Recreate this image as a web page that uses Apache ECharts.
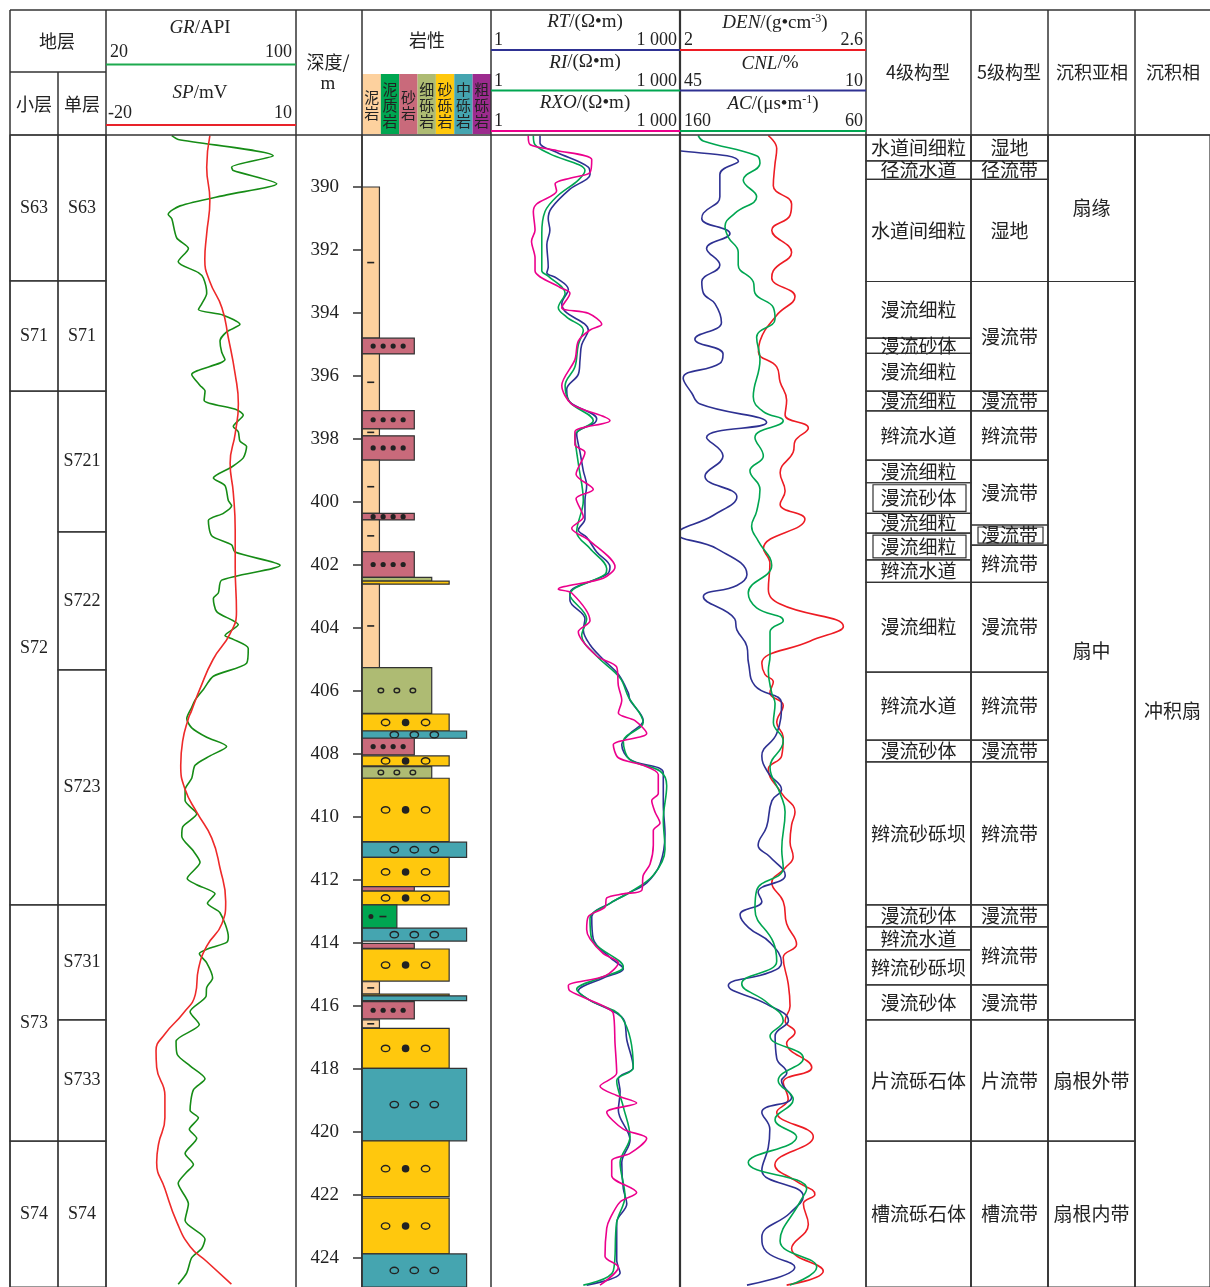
<!DOCTYPE html>
<html>
<head>
<meta charset="utf-8">
<script src="https://cdn.jsdelivr.net/npm/echarts@6/dist/echarts.min.js"></script>
<style>
  html, body { margin: 0; padding: 0; background: #fff; }
  #chart { width: 1210px; height: 1287px; }
</style>
</head>
<body>
<div id="chart"></div>
<script>
// ---- depth range (m) ----
const depthTop = 388.35;
const depthBottom = 424.92;
const depthTicks = [390, 392, 394, 396, 398, 400, 402, 404, 406, 408, 410, 412, 414, 416, 418, 420, 422, 424];

// ---- log curves, [value, depth] ----
const grCurve = [[47.7,388.37],[50.4,388.49],[90.4,389.01],[72.9,389.37],[73.6,389.48],[91.9,389.90],[70.8,390.25],[51.2,390.60],[46.2,390.87],[47.7,391.01],[49.8,391.62],[54.7,391.95],[50.4,392.37],[58.9,392.72],[61.0,392.89],[62.4,393.37],[60.3,393.71],[58.9,393.89],[69.4,394.07],[76.4,394.36],[70.8,394.60],[68.0,394.89],[68.7,395.24],[70.1,395.48],[56.1,395.95],[59.6,396.30],[61.7,396.48],[61.3,396.77],[75.0,397.07],[77.8,397.24],[73.6,397.60],[75.7,397.77],[76.4,398.07],[79.2,398.24],[77.8,398.60],[72.9,398.89],[65.2,399.24],[70.1,399.48],[71.5,399.95],[72.9,400.12],[69.4,400.36],[63.1,400.59],[64.5,401.07],[72.9,401.36],[74.3,401.59],[93.3,402.01],[68.7,402.48],[67.3,402.89],[65.2,403.06],[66.6,403.48],[73.6,403.77],[75.7,403.89],[70.1,404.24],[73.6,404.36],[79.9,404.65],[79.2,405.12],[65.2,405.53],[61.0,405.95],[57.5,406.29],[56.1,406.52],[54.0,406.88],[56.1,407.17],[62.4,407.47],[70.8,407.76],[63.8,408.06],[57.5,408.36],[56.1,408.77],[53.3,409.13],[53.3,409.48],[58.2,409.90],[52.3,410.31],[51.9,410.61],[56.8,411.08],[59.6,411.44],[54.2,411.95],[58.2,412.15],[65.9,412.44],[62.7,412.74],[68.0,413.04],[71.5,413.81],[70.8,413.98],[63.8,414.16],[59.3,414.34],[62.4,414.63],[64.9,415.11],[62.4,415.41],[62.1,415.70],[55.4,416.18],[59.3,416.59],[49.5,417.12],[50.0,417.54],[55.4,417.90],[61.7,418.31],[56.8,418.66],[55.4,419.31],[58.9,419.55],[55.1,419.91],[58.2,420.20],[53.3,420.68],[56.8,421.03],[54.0,421.27],[50.4,421.63],[54.7,422.28],[53.3,422.81],[61.7,423.40],[60.3,423.70],[56.1,423.99],[54.0,424.47],[50.4,424.83]];
const spCurve = [[-3.6,388.37],[-4.1,389.37],[-3.6,390.43],[-4.1,391.48],[-4.4,392.30],[-3.6,393.01],[-1.7,393.83],[-0.7,394.77],[0.4,395.95],[0.9,396.89],[0.4,397.83],[-0.4,398.77],[0.1,399.71],[0.4,400.89],[0.4,402.06],[0.6,403.48],[-0.4,404.18],[-3.1,405.00],[-5.2,405.95],[-6.5,406.63],[-7.0,406.88],[-7.9,407.59],[-8.2,408.36],[-7.5,409.13],[-5.7,409.84],[-3.3,410.67],[-2.0,411.62],[-1.1,412.68],[-1.7,413.39],[-4.1,414.10],[-5.4,414.82],[-5.9,415.64],[-7.8,416.23],[-10.7,416.89],[-12.1,417.42],[-12.0,417.95],[-10.7,418.84],[-10.7,419.55],[-11.7,420.38],[-12.0,420.97],[-10.7,421.80],[-8.8,422.87],[-6.7,423.64],[-4.1,424.11],[-0.2,424.83]];
const rtCurve = [[6.0,388.37],[6.0,388.60],[11.0,388.90],[35.0,389.37],[37.3,389.60],[17.9,390.07],[9.2,390.66],[8.1,391.01],[8.6,391.37],[7.7,391.83],[8.1,392.54],[7.7,392.72],[11.0,392.89],[16.9,393.25],[13.3,393.71],[15.0,393.95],[35.0,394.54],[27.5,395.01],[25.9,395.48],[24.3,395.95],[15.9,396.42],[17.9,396.83],[47.6,397.36],[44.8,397.48],[22.9,397.83],[25.9,398.42],[29.2,399.01],[33.0,399.48],[31.0,399.95],[31.0,400.54],[24.3,400.89],[33.0,401.12],[47.6,401.59],[77.4,402.06],[68.7,402.30],[17.9,402.89],[17.9,403.12],[31.0,403.71],[29.2,404.06],[37.3,404.53],[60.6,405.00],[105,405.47],[151,406.06],[161,406.29],[261,406.94],[161,407.35],[119,407.71],[161,408.18],[543,408.60],[543,409.60],[578,410.55],[481,411.50],[296,412.09],[161,412.39],[77.4,412.74],[39.7,413.16],[42.0,413.87],[77.4,414.46],[126,414.82],[60.6,415.11],[24.3,415.52],[37.3,415.82],[126,416.41],[143,417.07],[181,417.95],[105,418.31],[112,418.72],[105,419.31],[161,420.26],[119,420.97],[126,421.80],[143,422.28],[98.9,422.87],[98.9,424.06],[112,424.47],[33.0,424.86]];
const riCurve = [[4.7,388.37],[5.0,388.66],[8.6,388.95],[31.0,389.48],[24.3,389.78],[11.0,390.31],[7.2,390.78],[6.4,391.48],[6.4,392.66],[8.1,392.83],[15.0,393.37],[11.7,393.83],[15.9,394.13],[29.2,394.54],[24.3,395.01],[21.5,395.71],[15.0,396.30],[17.9,396.83],[42.0,397.42],[21.5,397.89],[24.3,398.77],[29.2,399.95],[22.9,400.95],[37.3,401.48],[68.7,402.12],[64.5,402.30],[17.9,402.95],[33.0,403.71],[27.5,404.24],[47.6,404.89],[112,405.59],[151,406.18],[261,407.00],[126,407.59],[161,408.18],[481,408.54],[615,409.01],[543,410.08],[578,411.03],[377,411.85],[161,412.39],[77.4,412.74],[37.3,413.22],[39.7,413.87],[126,414.76],[53.7,415.11],[22.9,415.47],[37.3,415.82],[119,416.36],[181,417.95],[98.9,418.37],[126,419.20],[161,420.15],[112,420.97],[134,422.04],[98.9,422.87],[87.3,424.41],[29.2,424.86]];
const rxoCurve = [[3.9,388.37],[4.2,388.66],[11.0,388.84],[39.7,389.13],[37.3,389.54],[17.9,389.72],[10.4,389.90],[11.0,390.13],[5.3,390.54],[4.7,390.78],[5.0,391.37],[4.4,391.72],[5.0,392.25],[5.0,392.66],[12.5,393.19],[17.9,393.37],[13.3,393.83],[35.0,394.01],[57.2,394.36],[37.3,394.54],[24.3,394.89],[21.5,395.48],[13.3,396.30],[19.1,396.89],[77.4,397.42],[21.5,397.77],[21.5,398.18],[31.0,398.42],[22.4,399.12],[42.0,399.60],[22.4,399.89],[29.2,400.48],[19.1,400.83],[37.3,401.24],[93,402.06],[60.6,402.42],[11.7,402.77],[19.1,402.89],[37.3,403.77],[24.3,404.12],[47.6,404.89],[98.9,405.24],[105,405.83],[119,406.29],[105,406.70],[193,406.94],[296,407.35],[87.3,407.71],[105,408.12],[261,408.36],[452,408.65],[452,409.25],[356,409.48],[401,409.84],[481,410.19],[377,410.43],[377,410.90],[334,411.50],[261,411.85],[247,412.33],[126,412.44],[68.7,412.57],[64.5,412.86],[35.0,413.16],[33.0,413.57],[37.3,413.87],[60.6,414.34],[105,414.63],[64.5,415.05],[16.9,415.35],[17.9,415.52],[60.6,416.00],[87.3,416.23],[93,417.18],[98.9,418.13],[53.7,418.55],[98.9,418.84],[205,419.08],[68.7,419.37],[126,419.91],[296,420.20],[161,420.68],[82.4,420.91],[82.4,421.39],[205,421.92],[112,422.22],[77.4,422.75],[68.7,423.05],[64.5,423.94],[105,424.29],[53.7,424.86]];
const denCurve = [[2.285,388.37],[2.312,388.78],[2.306,389.31],[2.301,389.96],[2.360,390.54],[2.355,390.90],[2.296,391.37],[2.360,392.07],[2.301,392.66],[2.296,392.89],[2.371,393.48],[2.312,394.07],[2.258,394.89],[2.253,395.24],[2.312,395.71],[2.323,396.19],[2.344,396.77],[2.339,397.24],[2.414,397.65],[2.371,398.07],[2.365,398.42],[2.323,399.07],[2.339,399.65],[2.323,400.07],[2.403,400.54],[2.269,401.48],[2.290,401.95],[2.285,402.77],[2.323,403.24],[2.527,403.95],[2.419,404.42],[2.264,405.12],[2.274,405.47],[2.301,405.71],[2.290,406.06],[2.333,406.46],[2.312,407.00],[2.333,407.47],[2.328,408.06],[2.285,408.48],[2.328,409.25],[2.371,409.84],[2.360,410.25],[2.355,410.79],[2.365,411.26],[2.339,411.62],[2.296,412.09],[2.333,412.68],[2.344,413.39],[2.376,414.04],[2.333,414.46],[2.349,415.29],[2.355,416.00],[2.339,416.47],[2.371,416.83],[2.344,417.18],[2.425,417.95],[2.333,418.43],[2.349,418.96],[2.312,419.37],[2.430,420.15],[2.306,421.04],[2.376,421.57],[2.435,421.98],[2.398,422.28],[2.414,422.93],[2.360,423.70],[2.462,424.41],[2.344,424.86]];
const cnlCurve = [[49.7,388.37],[49.4,388.66],[34.0,389.19],[37.5,389.60],[37.5,390.31],[40.6,390.83],[40.9,391.01],[35.6,391.48],[40.0,391.95],[37.5,392.48],[40.9,393.01],[40.6,393.37],[38.4,393.71],[37.2,394.30],[42.2,394.83],[36.9,395.30],[37.5,395.60],[44.4,396.07],[42.8,396.54],[41.2,396.89],[28.7,397.48],[40.0,397.95],[36.9,398.54],[40.3,399.18],[34.3,399.83],[38.7,400.42],[45.3,401.01],[38.1,401.48],[32.4,402.30],[34.3,402.65],[40.6,403.01],[34.7,403.71],[34.3,404.06],[32.4,404.59],[32.1,405.12],[30.9,405.83],[25.9,406.40],[26.8,407.35],[29.6,408.06],[28.4,408.60],[25.9,409.13],[27.7,409.48],[28.7,410.31],[30.3,410.90],[28.1,411.26],[25.2,411.85],[30.3,412.39],[29.6,412.68],[33.7,413.10],[32.1,413.51],[28.1,413.98],[25.9,414.63],[28.1,414.93],[35.9,415.35],[28.7,415.94],[24.6,416.47],[27.1,416.95],[26.8,417.66],[24.9,418.13],[25.9,418.37],[24.0,418.90],[29.6,419.37],[28.1,419.91],[28.4,420.50],[29.6,421.21],[21.8,422.04],[24.3,422.57],[29.6,423.34],[28.7,423.81],[23.4,424.29],[32.4,424.86]];
const acCurve = [[150.2,388.37],[147.5,388.54],[118.8,389.01],[117.0,389.25],[126.0,389.78],[118.8,390.31],[130.4,390.83],[135.8,391.25],[134.0,391.60],[128.7,392.07],[128.7,392.48],[120.6,393.01],[119.7,393.37],[109.8,393.83],[108.9,394.19],[118.8,394.77],[117.0,395.48],[120.6,396.66],[115.2,397.13],[104.5,397.42],[119.7,397.95],[115.2,398.54],[122.4,399.01],[117.0,399.60],[118.8,400.30],[121.5,400.77],[117.9,401.24],[110.7,402.01],[123.3,402.89],[118.8,403.36],[104.5,403.77],[111.6,404.12],[111.6,404.89],[112.5,405.36],[110.7,406.06],[108.9,406.40],[109.8,407.00],[104.5,407.59],[111.6,408.42],[106.2,409.25],[103.5,409.84],[105.3,411.03],[104.5,411.62],[118.8,412.33],[119.7,412.92],[109.8,413.98],[108.0,414.58],[126.8,415.29],[113.4,415.88],[104.5,416.47],[111.6,416.95],[93.7,417.66],[107.2,418.37],[99.1,418.96],[108.9,419.61],[97.3,420.15],[123.3,420.97],[91.9,421.80],[95.5,422.22],[106.2,423.46],[86.5,424.29],[100.9,424.86]];

// ---- lithology: [top, bottom, code] ----
const lithNames = ['泥岩', '泥质岩', '砂岩', '细砾岩', '砂砾岩', '中砾岩', '粗砾岩'];
const lithColors = ['#FDD19E', '#00A651', '#C96A7B', '#AEBB73', '#FFC80D', '#45A5B0', '#9C2B8E'];
const lithBeds = [
  [390.00, 394.80, 0], [394.80, 395.30, 2], [395.30, 397.10, 0], [397.10, 397.68, 2],
  [397.68, 397.90, 0], [397.90, 398.67, 2], [398.67, 400.36, 0], [400.36, 400.57, 2],
  [400.57, 401.58, 0], [401.58, 402.39, 2], [402.39, 402.51, 3], [402.51, 402.61, 4],
  [402.61, 405.26, 0], [405.26, 406.71, 3], [406.73, 407.27, 4], [407.27, 407.50, 5],
  [407.50, 408.03, 2], [408.06, 408.38, 4], [408.40, 408.77, 3], [408.77, 410.78, 4],
  [410.80, 411.28, 5], [411.28, 412.21, 4], [412.21, 412.35, 2], [412.35, 412.79, 4],
  [412.79, 413.53, 1], [413.53, 413.94, 5], [414.01, 414.17, 2], [414.19, 415.21, 4],
  [415.23, 415.62, 0], [415.62, 415.68, 4], [415.68, 415.83, 5], [415.86, 416.41, 2],
  [416.44, 416.69, 0], [416.71, 417.98, 4], [417.98, 420.28, 5], [420.28, 422.05, 4],
  [422.10, 423.87, 4], [423.87, 424.92, 5]
];

// ---- strata and architecture intervals ----
const xiaoNames = ['S63', 'S71', 'S72', 'S73', 'S74'];
const xiaoBounds = [[388.35, 392.98], [392.98, 396.48], [396.48, 412.79], [412.79, 420.29], [420.29, 424.92]];
const danNames = ['S63', 'S71', 'S721', 'S722', 'S723', 'S731', 'S733', 'S74'];
const danBounds = [[388.35, 392.98], [392.98, 396.48], [396.48, 400.95], [400.95, 405.33], [405.33, 412.79], [412.79, 416.44], [416.44, 420.29], [420.29, 424.92]];
const arch4Names = ['水道间细粒', '径流水道', '水道间细粒', '漫流细粒', '漫流砂体', '漫流细粒', '漫流细粒', '辫流水道', '漫流细粒', '漫流砂体', '漫流细粒', '漫流细粒', '辫流水道', '漫流细粒', '辫流水道', '漫流砂体', '辫流砂砾坝', '漫流砂体', '辫流水道', '辫流砂砾坝', '漫流砂体', '片流砾石体', '槽流砾石体'];
const arch4Bounds = [[388.35, 389.17], [389.17, 389.76], [389.76, 393.00], [393.00, 394.80], [394.80, 395.28], [395.28, 396.48], [396.48, 397.11], [397.11, 398.67], [398.67, 399.39], [399.39, 400.36], [400.36, 400.99], [400.99, 401.84], [401.84, 402.55], [402.55, 405.40], [405.40, 407.56], [407.56, 408.25], [408.25, 412.79], [412.79, 413.49], [413.49, 414.22], [414.22, 415.33], [415.33, 416.44], [416.44, 420.29], [420.29, 424.92]];
const arch5Names = ['湿地', '径流带', '湿地', '漫流带', '漫流带', '辫流带', '漫流带', '漫流带', '辫流带', '漫流带', '辫流带', '漫流带', '辫流带', '漫流带', '辫流带', '漫流带', '片流带', '槽流带'];
const arch5Bounds = [[388.35, 389.17], [389.17, 389.76], [389.76, 393.00], [393.00, 396.48], [396.48, 397.11], [397.11, 398.67], [398.67, 400.73], [400.73, 401.37], [401.37, 402.55], [402.55, 405.40], [405.40, 407.56], [407.56, 408.25], [408.25, 412.79], [412.79, 413.49], [413.49, 415.33], [415.33, 416.44], [416.44, 420.29], [420.29, 424.92]];
const subNames = ['扇缘', '扇中', '扇根外带', '扇根内带'];
const subBounds = [[388.35, 393.00], [393.00, 416.44], [416.44, 420.29], [420.29, 424.92]];
const facNames = ['冲积扇'];
const facBounds = [[388.35, 424.92]];

// ---- layout ----
const serif = '"Liberation Serif", "Times New Roman", serif';
const cjk = '"Noto Sans CJK SC", sans-serif';
const ink = '#222';
const border = '#333';
const trackX = {
    gr: [106, 296], res: [491, 680], den: [680, 866], lith: [362, 491],
    xiao: [10, 58], dan: [58, 106], a4: [866, 971], a5: [971, 1048],
    sub: [1048, 1135], fac: [1135, 1210]
};
const gridOrder = ['gr', 'res', 'den', 'lith', 'xiao', 'dan', 'a4', 'a5', 'sub', 'fac'];
const bodyTop = 135, bodyHeight = 1152;

const grids = gridOrder.map(k => ({
    left: trackX[k][0], width: trackX[k][1] - trackX[k][0], top: bodyTop, height: bodyHeight
}));

const yAxes = gridOrder.map((k, i) => {
    const ax = { type: 'value', gridIndex: i, min: depthTop, max: depthBottom, inverse: true, show: false };
    if (k === 'lith') {
        ax.show = true;
        ax.position = 'left';
        ax.splitLine = { show: false };
        ax.axisLine = { show: true, lineStyle: { color: border, width: 1.5 } };
        ax.axisTick = { show: true, length: 9, customValues: depthTicks, lineStyle: { color: border, width: 1.5 } };
        ax.axisLabel = { show: true, customValues: depthTicks, margin: 23, fontSize: 19, fontFamily: serif, color: ink };
    }
    return ax;
});

const xAxes = [
    { gridIndex: 0, type: 'value', min: 20, max: 100, show: false },           // GR
    { gridIndex: 0, type: 'value', min: -20, max: 10, show: false },           // SP
    { gridIndex: 1, type: 'log', logBase: 10, min: 1, max: 1000, show: false }, // RT RI RXO
    { gridIndex: 2, type: 'value', min: 2, max: 2.6, show: false },            // DEN
    { gridIndex: 2, type: 'value', min: 10, max: 45, inverse: true, show: false }, // CNL
    { gridIndex: 2, type: 'value', min: 60, max: 160, inverse: true, show: false }, // AC
    { gridIndex: 3, type: 'value', min: 0, max: 7.4, show: false }             // lithology width
];
for (let i = 4; i < gridOrder.length; i++) {
    xAxes.push({ gridIndex: i, type: 'value', min: 0, max: 1, show: false });
}

function curve(name, data, xi, yi, color, smooth, extra) {
    return Object.assign({
        name: name, type: 'line', data: data, xAxisIndex: xi, yAxisIndex: yi,
        symbol: 'none', smooth: smooth, lineStyle: { color: color, width: 1.6 }, z: 5
    }, extra || {});
}

// lithology bed drawing
function renderBed(params, api) {
    const top = api.value(0), bot = api.value(1), code = api.value(2);
    const p0 = api.coord([0, top]);
    const p1 = api.coord([code + 1, bot]);
    const x = p0[0], y = p0[1], w = p1[0] - p0[0], h = p1[1] - p0[1];
    const kids = [{
        type: 'rect', shape: { x: x, y: y, width: w, height: h },
        style: { fill: lithColors[code], stroke: border, lineWidth: 1.2 }
    }];
    if (h >= 6) {
        const cx = x + w / 2, cy = y + h / 2;
        const dot = (px, r) => ({ type: 'circle', shape: { cx: px, cy: cy, r: r }, style: { fill: ink } });
        const ring = (px, rx, ry) => ({ type: 'ellipse', shape: { cx: px, cy: cy, rx: rx, ry: ry }, style: { fill: 'none', stroke: ink, lineWidth: 1.4 } });
        const dash = (px) => ({ type: 'line', shape: { x1: px - 3.5, y1: cy, x2: px + 3.5, y2: cy }, style: { stroke: ink, lineWidth: 1.6 } });
        if (code === 0) kids.push(dash(cx));
        if (code === 1) { kids.push(dot(cx - 8.5, 2.5)); kids.push(dash(cx + 3.5)); }
        if (code === 2) [-15, -5, 5, 15].forEach(d => kids.push(dot(cx + d, 2.6)));
        if (code === 3) [-16, 0, 16].forEach(d => kids.push(ring(cx + d, 2.8, 2.3)));
        if (code === 4) { kids.push(ring(cx - 20, 4.2, 3.2)); kids.push(dot(cx, 3.8)); kids.push(ring(cx + 20, 4.2, 3.2)); }
        if (code === 5) [-20, 0, 20].forEach(d => kids.push(ring(cx + d, 4.2, 3.2)));
    }
    return { type: 'group', children: kids };
}

// interval text cells
function cellSeries(key, bounds, names, font, insets) {
    const gi = gridOrder.indexOf(key);
    return {
        type: 'custom', xAxisIndex: gi + 3, yAxisIndex: gi, data: bounds,
        encode: { y: [0, 1] }, z: 3,
        renderItem: function (params, api) {
            const p0 = api.coord([0, api.value(0)]);
            const p1 = api.coord([1, api.value(1)]);
            const x = p0[0], y = p0[1], w = p1[0] - p0[0], h = p1[1] - p0[1];
            const kids = [{
                type: 'rect', shape: { x: x, y: y, width: w, height: h },
                style: { fill: 'none', stroke: border, lineWidth: 1.2 }
            }];
            if (insets && insets.indexOf(params.dataIndex) >= 0) {
                kids.push({
                    type: 'rect', shape: { x: x + 7, y: y + 2, width: w - 12, height: h - 4 },
                    style: { fill: 'none', stroke: border, lineWidth: 1.2 }
                });
            }
            kids.push({
                type: 'text',
                style: {
                    text: names[params.dataIndex], x: x + w / 2, y: y + h / 2,
                    align: 'center', verticalAlign: 'middle', textAlign: 'center', textVerticalAlign: 'middle',
                    font: font, fill: ink
                }
            });
            return { type: 'group', children: kids };
        }
    };
}

// ---- header / frame graphics ----
const g = [];
function line(x1, y1, x2, y2, color, w) {
    g.push({ type: 'line', shape: { x1: x1, y1: y1, x2: x2, y2: y2 }, style: { stroke: color || border, lineWidth: w || 1.5 }, z: 10 });
}
function txt(x, y, text, font, align, rich) {
    const st = {
        text: text, font: font, fill: ink, align: align || 'center', verticalAlign: 'middle',
        textAlign: align || 'center', textVerticalAlign: 'middle'
    };
    if (rich) st.rich = rich;
    g.push({ type: 'text', x: x, y: y, style: st, z: 10 });
}
const richLabel = {
    i: { fontFamily: serif, fontSize: 19, fontStyle: 'italic', fill: ink, color: ink },
    n: { fontFamily: serif, fontSize: 19, fill: ink, color: ink },
    s: { fontFamily: serif, fontSize: 12, fill: ink, color: ink, verticalAlign: 'top', padding: [0, 0, 8, 0] }
};
const numFont = '18px ' + serif;
const cjkFont = '18px ' + cjk;
const cellFont = '19px ' + cjk;

// frame
line(10, 10, 1210, 10);
line(10, 135, 1210, 135);
line(10, 72, 106, 72);
[10, 106, 296, 362, 491, 866, 971, 1048, 1135].forEach(x => line(x, 10, x, 1287));
line(680, 10, 680, 1287, border, 2.2);
line(58, 72, 58, 135);

// strata header
txt(57, 41, '地层', cjkFont);
txt(34, 104, '小层', cjkFont);
txt(82, 104, '单层', cjkFont);

// GR / SP header
txt(200, 28, '{i|GR}{n|/API}', '19px ' + serif, 'center', richLabel);
txt(110, 52, '20', numFont, 'left');
txt(292, 52, '100', numFont, 'right');
line(106, 64.5, 296, 64.5, '#1DAA4E', 2);
txt(200, 93, '{i|SP}{n|/mV}', '19px ' + serif, 'center', richLabel);
txt(108, 113, '-20', numFont, 'left');
txt(292, 113, '10', numFont, 'right');
line(106, 125, 296, 125, '#E8232A', 2);

// depth header
txt(328, 62, '深度/', cjkFont);
txt(328, 84, 'm', '19px ' + serif);

// lithology header + legend
txt(427, 40, '岩性', cjkFont);
lithNames.forEach((name, i) => {
    const x0 = 362.5 + i * 18.35;
    g.push({ type: 'rect', shape: { x: x0, y: 74, width: 18.35, height: 60 }, style: { fill: lithColors[i] }, z: 9 });
    g.push({
        type: 'text', x: x0 + 9.2, y: 105,
        style: {
            text: name.split('').join('\n'), font: '15px ' + cjk, lineHeight: 16, fill: ink,
            align: 'center', verticalAlign: 'middle', textAlign: 'center', textVerticalAlign: 'middle'
        }, z: 10
    });
});

// resistivity header
const resRows = [['{i|RT}{n|/(Ω•m)}', '#2E3192'], ['{i|RI}{n|/(Ω•m)}', '#00A651'], ['{i|RXO}{n|/(Ω•m)}', '#EC008C']];
resRows.forEach((r, i) => {
    const y0 = 10 + i * 40.5;
    txt(585, y0 + 12, r[0], '19px ' + serif, 'center', richLabel);
    txt(494, y0 + 30.5, '1', numFont, 'left');
    txt(677, y0 + 30.5, '1 000', numFont, 'right');
    line(491, y0 + 40, 680, y0 + 40, r[1], 2);
});

// porosity header
const denRows = [
    ['{i|DEN}{n|/(g•cm}{s|-3}{n|)}', '2', '2.6', '#ED1C24', 775],
    ['{i|CNL}{n|/%}', '45', '10', '#2E3192', 770],
    ['{i|AC}{n|/(μs•m}{s|-1}{n|)}', '160', '60', '#00A651', 773]
];
denRows.forEach((r, i) => {
    const y0 = 10 + i * 40.5;
    txt(r[4], y0 + 13, r[0], '19px ' + serif, 'center', richLabel);
    txt(684, y0 + 30.5, r[1], numFont, 'left');
    txt(863, y0 + 30.5, r[2], numFont, 'right');
    line(680, y0 + 40, 866, y0 + 40, r[3], 2);
});

// architecture / facies header
txt(918, 72, '4级构型', cjkFont);
txt(1009, 72, '5级构型', cjkFont);
txt(1092, 72, '沉积亚相', cjkFont);
txt(1173, 72, '沉积相', cjkFont);

const option = {
    backgroundColor: '#fff',
    animation: false,
    grid: grids,
    xAxis: xAxes,
    yAxis: yAxes,
    graphic: { elements: g },
    series: [
        curve('GR', grCurve, 0, 0, '#168C16', 0.25),
        curve('SP', spCurve, 1, 0, '#EE2A2A', 0.5),
        curve('RT', rtCurve, 2, 1, '#2E3192', 0.35),
        curve('RI', riCurve, 2, 1, '#00A651', 0.35),
        curve('RXO', rxoCurve, 2, 1, '#EC008C', 0.3),
        curve('DEN', denCurve, 3, 2, '#ED1C24', 0.45),
        curve('CNL', cnlCurve, 4, 2, '#2E3192', 0.45, { clip: false }),
        curve('AC', acCurve, 5, 2, '#00A651', 0.45),
        {
            type: 'custom', xAxisIndex: 6, yAxisIndex: 3, data: lithBeds,
            encode: { x: 2, y: [0, 1] }, renderItem: renderBed, z: 4
        },
        cellSeries('xiao', xiaoBounds, xiaoNames, '18px ' + serif),
        cellSeries('dan', danBounds, danNames, '18px ' + serif),
        cellSeries('a4', arch4Bounds, arch4Names, cellFont, [9, 11]),
        cellSeries('a5', arch5Bounds, arch5Names, cellFont, [7]),
        cellSeries('sub', subBounds, subNames, cellFont),
        cellSeries('fac', facBounds, facNames, cellFont)
    ]
};

const chart = echarts.init(document.getElementById('chart'));
chart.setOption(option);
</script>
</body>
</html>
